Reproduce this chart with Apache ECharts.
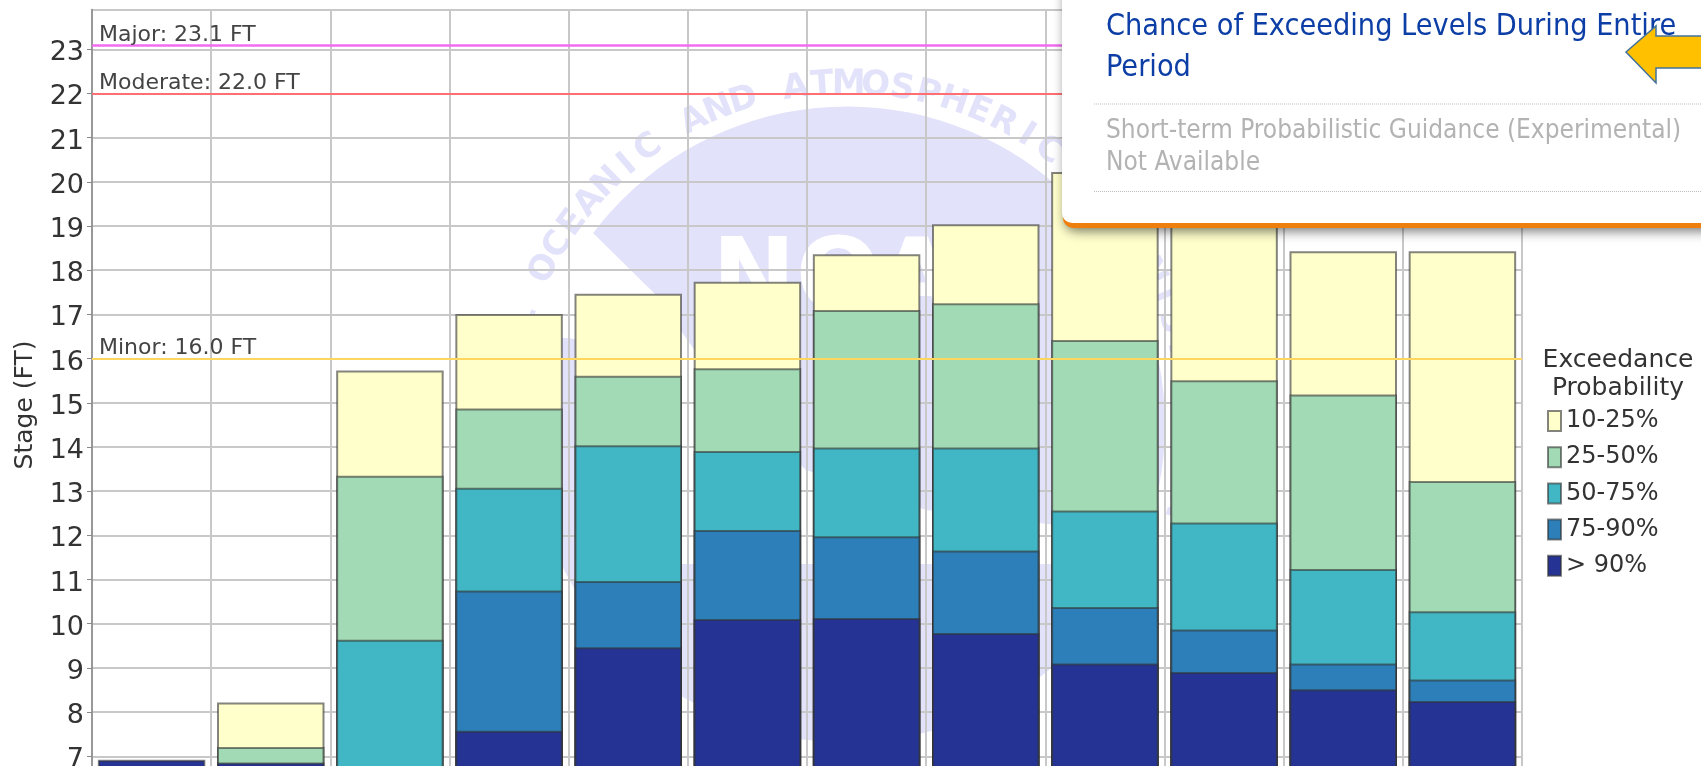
<!DOCTYPE html>
<html><head><meta charset="utf-8">
<style>html,body{margin:0;padding:0;background:#fff;overflow:hidden}#c{width:1701px;height:766px;filter:blur(0.5px)}</style>
<script src="https://cdn.jsdelivr.net/npm/echarts@6/dist/echarts.min.js"></script></head>
<body><div id="c"></div>
<script>
const categories = ['1','2','3','4','5','6','7','8','9','10','11','12'];
const p10_25 = [null,8.22,15.73,17.01,17.47,17.74,18.36,19.04,20.22,20.0,18.43,18.43];
const p25_50 = [null,7.21,13.35,14.87,15.61,15.78,17.10,17.25,16.42,15.51,15.19,13.23];
const p50_75 = [null,null,9.64,13.08,14.04,13.91,13.99,13.99,12.56,12.29,11.24,10.28];
const p75_90 = [null,null,null,10.75,10.97,12.12,11.98,11.66,10.38,9.87,9.10,8.74];
const p90 = [6.92,6.86,null,7.58,9.47,10.11,10.13,9.79,9.10,8.91,8.52,8.25];
const seriesNames = ['10-25%','25-50%','50-75%','75-90%','> 90%'];
const colors = ['#ffffcc','#a1dab4','#41b6c4','#2c7fb8','#253494'];
const thresholdNames = ['Major: 23.1 FT','Moderate: 22.0 FT','Minor: 16.0 FT'];
const thresholdValues = [23.1,22.0,16.0];
const thresholdColors = ['#f26cf0','#ff6f73','#ffd75e'];
const lev = [p10_25,p25_50,p50_75,p75_90,p90];
const W = '#e2e2fb';
const FF = 'DejaVu Sans';
const chart = echarts.init(document.getElementById('c'),null,{renderer:'canvas'});
const wm = [];
const cx=847,cy=424.5,R=340,r0=318;
wm.push({type:'circle',z:-6,silent:true,shape:{cx,cy,r:r0},style:{fill:W}});
wm.push({type:'polygon',z:-5,silent:true,shape:{points:[[570,220],[593,233],[654,293],[730,400],[806,470],[926,510],[1100,530],[1100,766],[700,766],[640,480],[600,345],[569,338],[500,338],[500,240]]},style:{fill:'#fff'}});
const lower=[];
for(let d=100;d<=260;d+=4){const a=d*Math.PI/180;const x=cx+r0*Math.sin(a),y=cy-r0*Math.cos(a);if(y>=555)lower.push([x,y]);}
wm.push({type:'polygon',z:-5,silent:true,shape:{points:lower},style:{fill:W}});
wm.push({type:'text',z:-4,silent:true,style:{x:712,y:233,text:'NOAA',fill:'#fff',font:'bold 100px "DejaVu Sans"',verticalAlign:'top'}});
const arcText='NATIONAL OCEANIC AND ATMOSPHERIC ADMINISTRATION';
[...arcText].forEach((ch,i)=>{
  const a=(-103.2+i*4.5)*Math.PI/180;
  wm.push({type:'text',z:-4,silent:true,x:cx+R*Math.sin(a),y:cy-R*Math.cos(a),rotation:-a,style:{text:ch,fill:W,font:'bold 34px "DejaVu Sans"',align:'center',verticalAlign:'middle'}});
});
const panel=[
 {type:'rect',z:50,silent:true,shape:{x:1063,y:-30,width:700,height:258,r:10},style:{fill:'#ee7f0d',shadowBlur:12,shadowColor:'rgba(0,0,0,.55)',shadowOffsetX:2,shadowOffsetY:3}},
 {type:'rect',z:51,silent:true,shape:{x:1062,y:-30,width:700,height:253,r:10},style:{fill:'#fff'}},
 {type:'text',z:52,silent:true,style:{x:1106,y:27,text:'Chance of Exceeding Levels During Entire',fill:'#0c3ea6',font:'30.3px "DejaVu Sans Condensed"',verticalAlign:'middle'}},
 {type:'text',z:52,silent:true,style:{x:1106,y:68,text:'Period',fill:'#0c3ea6',font:'30.3px "DejaVu Sans Condensed"',verticalAlign:'middle'}},
 {type:'line',z:52,silent:true,shape:{x1:1094,y1:104,x2:1701,y2:104},style:{stroke:'#bdbdbd',lineWidth:1,lineDash:[1,1]}},
 {type:'text',z:52,silent:true,style:{x:1106,y:131,text:'Short-term Probabilistic Guidance (Experimental)',fill:'#b3b3b3',font:'26px "DejaVu Sans Condensed"',verticalAlign:'middle'}},
 {type:'text',z:52,silent:true,style:{x:1106,y:163,text:'Not Available',fill:'#b3b3b3',font:'26px "DejaVu Sans Condensed"',verticalAlign:'middle'}},
 {type:'line',z:52,silent:true,shape:{x1:1094,y1:191.5,x2:1701,y2:191.5},style:{stroke:'#bdbdbd',lineWidth:1,lineDash:[1,1]}},
 {type:'polygon',z:53,silent:true,shape:{points:[[1626,52],[1656,26],[1656,36],[1705,36],[1705,68],[1656,68],[1656,83]]},style:{fill:'#ffc000',stroke:'#41719c',lineWidth:1.5}},
 {type:'text',z:20,silent:true,style:{x:1618,y:360,text:'Exceedance',fill:'#333',font:'25px "DejaVu Sans"',align:'center',verticalAlign:'middle'}},
 {type:'text',z:20,silent:true,style:{x:1618,y:388,text:'Probability',fill:'#333',font:'25px "DejaVu Sans"',align:'center',verticalAlign:'middle'}}
];
const series = seriesNames.map((n,i)=>({
  name:n,type:'bar',data:lev[i],barWidth:107.5,barGap:'-100%',z:3+i,
  itemStyle:{color:colors[i],borderColor:'rgba(50,50,50,.6)',borderWidth:2},
  emphasis:{disabled:true}
}));
series[4].markLine={silent:true,symbol:'none',z:8,animation:false,
  data:thresholdNames.map((t,i)=>({yAxis:thresholdValues[i],name:t,
    lineStyle:{color:thresholdColors[i],width:i===0?2.5:2,type:'solid',opacity:1},
    label:{show:true,position:'insideStartTop',formatter:t,color:'#444',fontSize:22,fontFamily:FF,distance:[7,-1]}}))};
chart.setOption({
  animation:false,backgroundColor:'transparent',
  grid:{left:92,top:9.5,width:1430,height:791,containLabel:false,outerBoundsMode:'none'},
  legend:{left:1542,top:404,orient:'vertical',itemWidth:13,itemHeight:20,itemGap:12.2,icon:'rect',selectedMode:false,data:seriesNames,
    textStyle:{fontSize:24,color:'#333',fontFamily:FF}},
  xAxis:{type:'category',data:categories,axisLabel:{show:false},axisTick:{show:false},
    axisLine:{show:false},splitLine:{show:true,lineStyle:{color:'#c8c8c8',width:2}}},
  yAxis:{type:'value',min:6,max:23.9,interval:1,name:'Stage (FT)',nameLocation:'middle',nameGap:54,
    nameTextStyle:{fontSize:25,color:'#333',fontFamily:FF},
    axisLine:{show:true,lineStyle:{color:'#888',width:1.5}},axisTick:{show:true,length:5,lineStyle:{color:'#888'}},
    axisLabel:{fontSize:27,color:'#333',fontFamily:FF,margin:8,verticalAlign:'top',lineHeight:8,showMaxLabel:false,formatter:v=>Number.isInteger(v)?String(v):''},
    splitLine:{show:true,lineStyle:{color:'#c8c8c8',width:2}}},
  graphic:{elements:wm.concat(panel)},
  series
});
</script></body></html>
